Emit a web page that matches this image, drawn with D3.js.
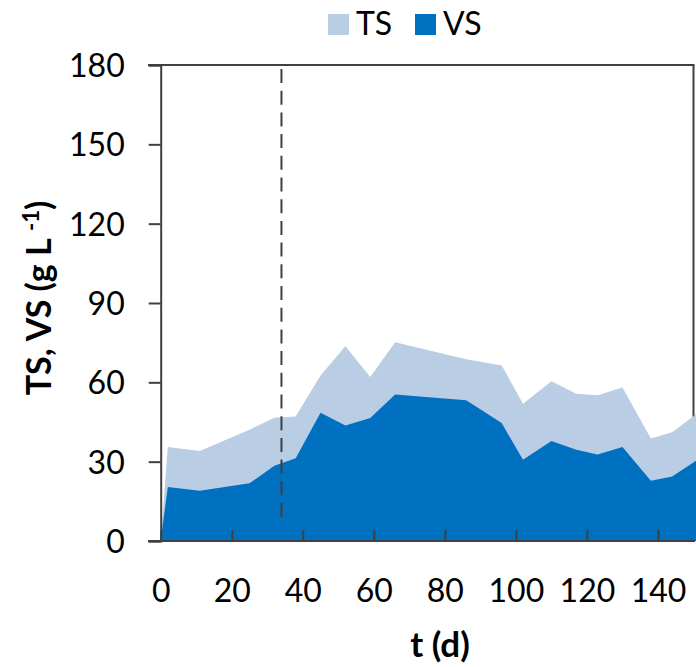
<!DOCTYPE html>
<html><head><meta charset="utf-8">
<script src="https://cdn.jsdelivr.net/npm/d3@7"></script>
<style>body{margin:0;background:#fff}svg{display:block}</style>
</head><body>
<svg id="c" width="696" height="667"></svg>
<script>
const days = [0, 2, 11, 25, 32, 38, 45, 52, 59, 66, 86, 96, 102, 110, 117, 123, 130, 138, 144, 151];
const tsValues = [0, 35.5, 34.0, 42.1, 46.6, 47.1, 62.6, 73.6, 62.0, 75.2, 68.7, 66.4, 51.9, 60.4, 55.7, 55.1, 58.0, 38.8, 41.1, 48.2];
const vsValues = [0, 20.4, 19.0, 21.8, 28.5, 31.3, 48.5, 43.7, 46.5, 55.4, 53.2, 44.6, 30.7, 37.8, 34.5, 32.7, 35.5, 22.8, 24.4, 30.6];
const xTicks = [0, 20, 40, 60, 80, 100, 120, 140];
const yTicks = [0, 30, 60, 90, 120, 150, 180];
const markerDay = 34;
const seriesNames = ["TS", "VS"];
const seriesColors = ["#B9CDE5", "#0070C0"];

const svg = d3.select("#c");
const font = "Lato, 'Open Sans', sans-serif";
const axisColor = "#404040";
const x = d3.scaleLinear().domain([0, 150]).range([160.7, 693.5]);
const y = d3.scaleLinear().domain([0, 180]).range([541, 65]);

// frame (top & right)
svg.append("line").attr("x1", 148).attr("x2", 694.5).attr("y1", y(180)).attr("y2", y(180))
  .attr("stroke", axisColor).attr("stroke-width", 2);
svg.append("line").attr("x1", x(150)).attr("x2", x(150)).attr("y1", y(180)).attr("y2", y(0))
  .attr("stroke", axisColor).attr("stroke-width", 2);

const data = days.map((d, i) => ({t: d, ts: tsValues[i], vs: vsValues[i]}));
const areaTS = d3.area().x(d => x(d.t)).y0(y(0)).y1(d => y(d.ts));
const areaVS = d3.area().x(d => x(d.t)).y0(y(0)).y1(d => y(d.vs));
svg.append("path").datum(data).attr("d", areaTS).attr("fill", seriesColors[0]);
svg.append("path").datum(data).attr("d", areaVS).attr("fill", seriesColors[1]);

// dashed marker
svg.append("line").attr("x1", x(markerDay)).attr("x2", x(markerDay))
  .attr("y1", 69).attr("y2", 522)
  .attr("stroke", axisColor).attr("stroke-width", 2).attr("stroke-dasharray", "14,7.7");

// y axis
const yAxis = svg.append("g").attr("transform", `translate(${x(0)},0)`)
  .call(d3.axisLeft(y).tickValues(yTicks).tickSize(12).tickPadding(12));
yAxis.select(".domain").attr("stroke", axisColor).attr("stroke-width", 2);
yAxis.selectAll(".tick line").attr("stroke", axisColor).attr("stroke-width", 2);
yAxis.selectAll(".tick text").attr("font-family", font).attr("font-size", 32).attr("fill", "#000")
  .attr("x", -36).attr("dy", "0.36em");

// x axis
const xAxis = svg.append("g").attr("transform", `translate(0,${y(0)})`)
  .call(d3.axisBottom(x).tickValues(xTicks).tickSize(-11).tickSizeOuter(0).tickPadding(12));
xAxis.select(".domain").attr("stroke", axisColor).attr("stroke-width", 2)
  .attr("d", `M148,0H695`);
xAxis.selectAll(".tick line").attr("stroke", axisColor).attr("stroke-width", 2);
xAxis.selectAll(".tick text").attr("font-family", font).attr("font-size", 32).attr("fill", "#000")
  .attr("y", 0).attr("dy", 0).attr("transform", "translate(0,61)");

// axis titles
svg.append("text").attr("x", 440).attr("y", 657).attr("text-anchor", "middle")
  .attr("font-family", font).attr("font-size", 35).attr("font-weight", "bold").text("t (d)");
const yt = svg.append("text").attr("transform", "translate(51,298) rotate(-90)")
  .attr("text-anchor", "middle").attr("font-family", font).attr("font-size", 34).attr("font-weight", "bold");
yt.append("tspan").text("TS, VS (g L ");
yt.append("tspan").attr("font-size", 22).attr("dy", -12).text("-1");
yt.append("tspan").attr("dy", 12).text(")");

// legend
const legendX = [328, 415];
seriesNames.forEach((n, i) => {
  svg.append("rect").attr("x", legendX[i]).attr("y", 14).attr("width", 21).attr("height", 21)
    .attr("fill", seriesColors[i]);
  svg.append("text").attr("x", legendX[i] + 28).attr("y", 35)
    .attr("font-family", font).attr("font-size", 32).attr("fill", "#000").text(n);
});
</script>
</body></html>
